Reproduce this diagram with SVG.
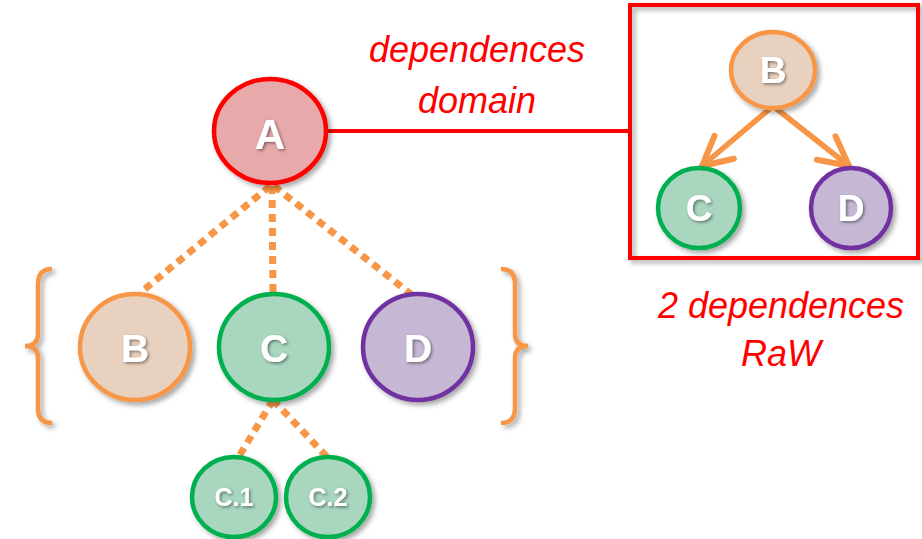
<svg xmlns="http://www.w3.org/2000/svg" width="922" height="539" viewBox="0 0 922 539">
<defs>
<filter id="sh" x="-20%" y="-20%" width="150%" height="150%"><feDropShadow dx="3" dy="3" stdDeviation="2.5" flood-color="#000" flood-opacity="0.35"/></filter>
<filter id="tsh" x="-30%" y="-30%" width="170%" height="170%"><feDropShadow dx="1.5" dy="1.5" stdDeviation="1.5" flood-color="#000" flood-opacity="0.45"/></filter>
<marker id="chev" markerUnits="userSpaceOnUse" markerWidth="44" markerHeight="44" viewBox="-36 -22 44 44" refX="0" refY="0" orient="auto">
<path d="M-29,-15 L0,0 L-29,15" fill="none" stroke="#F79646" stroke-width="6" stroke-linejoin="miter" stroke-linecap="round"/>
</marker>
</defs>
<style>
.n ellipse{stroke-width:4.5;filter:url(#sh)}
.a ellipse{fill:#E8A9AA;stroke:#FF0000}
.b ellipse{fill:#E9D1BF;stroke:#F79646}
.c ellipse{fill:#A9D6BF;stroke:#00B050}
.d ellipse{fill:#C6B8D5;stroke:#7030A0}
.n text{font-family:"Liberation Sans",Arial,sans-serif;font-weight:bold;fill:#fff;text-anchor:middle;filter:url(#tsh)}
.lbl{font-family:"Liberation Sans",Arial,sans-serif;font-style:italic;fill:#FF0000;font-size:36px;text-anchor:middle}
.dot{stroke:#F79646;stroke-width:7;stroke-dasharray:8 6;fill:none}
.arr{stroke:#F79646;stroke-width:5.5;fill:none;marker-end:url(#chev)}
.br{stroke:#F79646;stroke-width:4.5;fill:none;filter:url(#sh)}
</style>
<g id="connectors">
<line x1="327" y1="131" x2="630" y2="131" stroke="#FF0000" stroke-width="4"/>
<line class="dot" x1="270" y1="186" x2="140" y2="293"/>
<line class="dot" x1="272" y1="186" x2="273" y2="293"/>
<line class="dot" x1="274" y1="186" x2="412" y2="295"/>
<line class="dot" x1="273" y1="400" x2="238" y2="458"/>
<line class="dot" x1="273" y1="400" x2="329" y2="459"/>
<line class="arr" x1="773" y1="106" x2="702" y2="166"/>
<line class="arr" x1="773" y1="106" x2="849" y2="166"/>
</g>
<g id="box">
<rect x="630" y="5" width="288" height="253" fill="none" stroke="#FF0000" stroke-width="4" filter="url(#sh)"/>
</g>
<g id="braces">
<path class="br" d="M52,269 Q38,269 38,284 L38,334 Q38,346 25,346 Q38,346 38,358 L38,408 Q38,423 52,423"/>
<path class="br" d="M501,269 Q515,269 515,284 L515,334 Q515,346 528,346 Q515,346 515,358 L515,408 Q515,423 501,423"/>
</g>
<g id="node-A" class="n a"><ellipse cx="270" cy="131" rx="56" ry="52"/><text x="270" y="149" font-size="42">A</text></g>
<g id="node-B" class="n b"><ellipse cx="135" cy="347" rx="55" ry="53"/><text x="135" y="362" font-size="39">B</text></g>
<g id="node-C" class="n c"><ellipse cx="274" cy="347" rx="55" ry="53"/><text x="274" y="362" font-size="39">C</text></g>
<g id="node-D" class="n d"><ellipse cx="418" cy="347" rx="55" ry="53"/><text x="418" y="362" font-size="39">D</text></g>
<g id="node-C1" class="n c"><ellipse cx="234" cy="497" rx="42" ry="40"/><text x="234" y="506" font-size="25">C.1</text></g>
<g id="node-C2" class="n c"><ellipse cx="328" cy="497" rx="42" ry="40"/><text x="328" y="506" font-size="25">C.2</text></g>
<g id="node-B2" class="n b"><ellipse cx="773" cy="70" rx="42" ry="38"/><text x="773" y="83" font-size="37">B</text></g>
<g id="node-C3" class="n c"><ellipse cx="699" cy="208" rx="41" ry="40"/><text x="699" y="221" font-size="37">C</text></g>
<g id="node-D2" class="n d"><ellipse cx="851" cy="208" rx="40" ry="40"/><text x="851" y="221" font-size="37">D</text></g>
<g id="labels">
<text class="lbl" x="477" y="62">dependences</text>
<text class="lbl" x="477" y="113">domain</text>
<text class="lbl" x="781" y="318">2 dependences</text>
<text class="lbl" x="781" y="366">RaW</text>
</g>
</svg>
